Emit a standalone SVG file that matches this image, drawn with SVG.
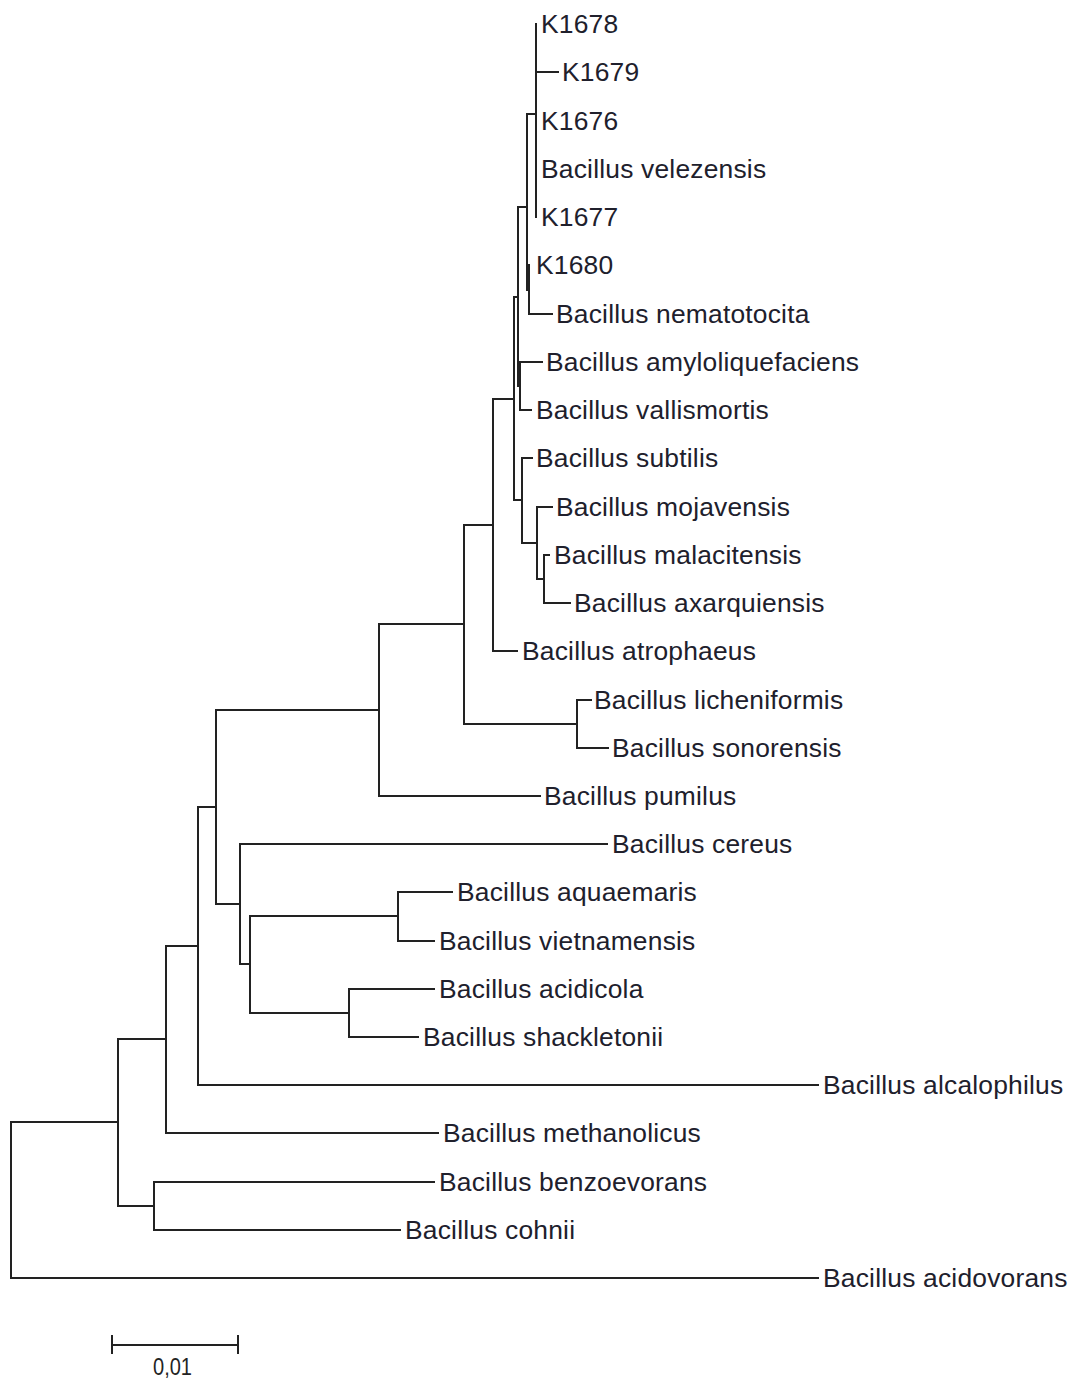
<svg xmlns="http://www.w3.org/2000/svg" width="1072" height="1382" viewBox="0 0 1072 1382">
  <style>
    .br { fill: none; stroke: #222222; stroke-width: 2; stroke-linecap: square; }
    .lbl { font-family: "Liberation Sans", Arial, sans-serif; font-size: 26.4px; letter-spacing: 0.2px; fill: #20202c; }
    .scl { font-family: "Liberation Sans", Arial, sans-serif; font-size: 23px; fill: #232323; }
  </style>
  <rect width="1072" height="1382" fill="#ffffff"/>

  <!-- tree branches: vertical node bars plus horizontal branches -->
  <g id="connectors" class="br">
    <!-- velezensis cluster -->
    <path d="M536 24 V217 M536 72 H558"/>
    <!-- K1680 / nematotocita -->
    <path d="M529 265 V314 M529 314 H552"/>
    <!-- node joining cluster and K1680 pair -->
    <path d="M527 114 V290 M527 114 H536 M527 290 H529"/>
    <!-- amyloliquefaciens / vallismortis -->
    <path d="M520 362 V410 M520 362 H542 M520 410 H531"/>
    <path d="M518 207 V386 M518 207 H527 M518 386 H520"/>
    <!-- malacitensis / axarquiensis -->
    <path d="M544 555 V603 M544 555 H549 M544 603 H570"/>
    <path d="M537 507 V579 M537 507 H552 M537 579 H544"/>
    <path d="M522 458 V543 M522 458 H532 M522 543 H537"/>
    <path d="M514 297 V500 M514 297 H518 M514 500 H522"/>
    <!-- atrophaeus -->
    <path d="M493 399 V651 M493 399 H514 M493 651 H517"/>
    <!-- licheniformis / sonorensis -->
    <path d="M577 700 V748 M577 700 H591 M577 748 H608"/>
    <path d="M464 525 V724 M464 525 H493 M464 724 H577"/>
    <!-- pumilus -->
    <path d="M379 624 V796 M379 624 H464 M379 796 H540"/>
    <!-- aquaemaris / vietnamensis -->
    <path d="M398 892 V941 M398 892 H452 M398 941 H434"/>
    <!-- acidicola / shackletonii -->
    <path d="M349 989 V1037 M349 989 H434 M349 1037 H418"/>
    <path d="M250 916 V1013 M250 916 H398 M250 1013 H349"/>
    <!-- cereus -->
    <path d="M240 844 V964 M240 844 H607 M240 964 H250"/>
    <path d="M216 710 V904 M216 710 H379 M216 904 H240"/>
    <!-- alcalophilus -->
    <path d="M198 807 V1085 M198 807 H216 M198 1085 H818"/>
    <!-- methanolicus -->
    <path d="M166 946 V1133 M166 946 H198 M166 1133 H438"/>
    <!-- benzoevorans / cohnii -->
    <path d="M154 1182 V1230 M154 1182 H434 M154 1230 H400"/>
    <path d="M118 1039 V1206 M118 1039 H166 M118 1206 H154"/>
    <!-- root with acidovorans -->
    <path d="M11 1122 V1278 M11 1122 H118 M11 1278 H818"/>
  </g>

  <!-- taxa -->
  <g id="K1678"><text class="lbl" x="541" y="33">K1678</text></g>
  <g id="K1679"><text class="lbl" x="562" y="81">K1679</text></g>
  <g id="K1676"><text class="lbl" x="541" y="130">K1676</text></g>
  <g id="B_velezensis"><text class="lbl" x="541" y="178">Bacillus velezensis</text></g>
  <g id="K1677"><text class="lbl" x="541" y="226">K1677</text></g>
  <g id="K1680"><text class="lbl" x="536" y="274">K1680</text></g>
  <g id="B_nematotocita"><text class="lbl" x="556" y="323">Bacillus nematotocita</text></g>
  <g id="B_amyloliquefaciens"><text class="lbl" x="546" y="371">Bacillus amyloliquefaciens</text></g>
  <g id="B_vallismortis"><text class="lbl" x="536" y="419">Bacillus vallismortis</text></g>
  <g id="B_subtilis"><text class="lbl" x="536" y="467">Bacillus subtilis</text></g>
  <g id="B_mojavensis"><text class="lbl" x="556" y="516">Bacillus mojavensis</text></g>
  <g id="B_malacitensis"><text class="lbl" x="554" y="564">Bacillus malacitensis</text></g>
  <g id="B_axarquiensis"><text class="lbl" x="574" y="612">Bacillus axarquiensis</text></g>
  <g id="B_atrophaeus"><text class="lbl" x="522" y="660">Bacillus atrophaeus</text></g>
  <g id="B_licheniformis"><text class="lbl" x="594" y="709">Bacillus licheniformis</text></g>
  <g id="B_sonorensis"><text class="lbl" x="612" y="757">Bacillus sonorensis</text></g>
  <g id="B_pumilus"><text class="lbl" x="544" y="805">Bacillus pumilus</text></g>
  <g id="B_cereus"><text class="lbl" x="612" y="853">Bacillus cereus</text></g>
  <g id="B_aquaemaris"><text class="lbl" x="457" y="901">Bacillus aquaemaris</text></g>
  <g id="B_vietnamensis"><text class="lbl" x="439" y="950">Bacillus vietnamensis</text></g>
  <g id="B_acidicola"><text class="lbl" x="439" y="998">Bacillus acidicola</text></g>
  <g id="B_shackletonii"><text class="lbl" x="423" y="1046">Bacillus shackletonii</text></g>
  <g id="B_alcalophilus"><text class="lbl" x="823" y="1094">Bacillus alcalophilus</text></g>
  <g id="B_methanolicus"><text class="lbl" x="443" y="1142">Bacillus methanolicus</text></g>
  <g id="B_benzoevorans"><text class="lbl" x="439" y="1191">Bacillus benzoevorans</text></g>
  <g id="B_cohnii"><text class="lbl" x="405" y="1239">Bacillus cohnii</text></g>
  <g id="B_acidovorans"><text class="lbl" x="823" y="1287">Bacillus acidovorans</text></g>

  <!-- scale bar -->
  <g id="scale_bar">
    <path class="br" d="M112 1345 H238 M112 1336 V1353 M238 1336 V1353"/>
    <text class="scl" x="153" y="1375" textLength="39" lengthAdjust="spacingAndGlyphs">0,01</text>
  </g>
</svg>
